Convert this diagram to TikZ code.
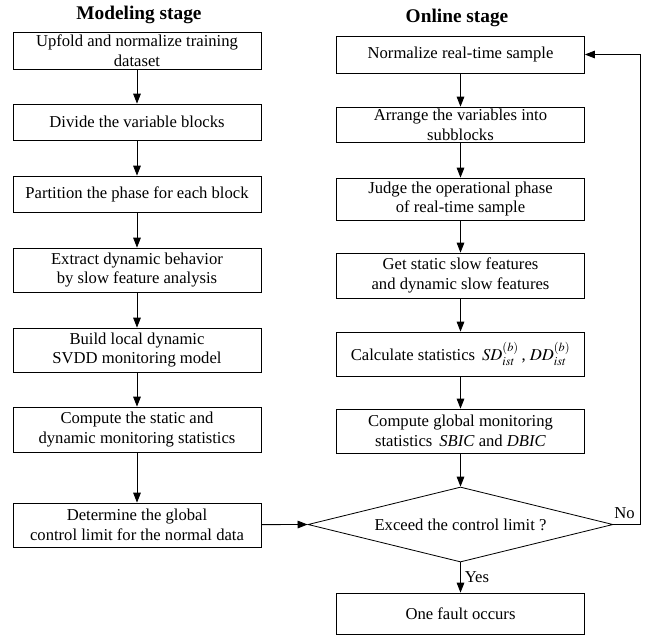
\documentclass[tikz,border=0pt]{standalone}
\usepackage{mathptmx}
\usepackage{fontspec}
\setmainfont{Liberation Serif}
\usetikzlibrary{shapes.geometric,arrows.meta}

\tikzset{
	procbox/.style={draw, rectangle, minimum width=7.44cm, inner sep=0pt, align=center,
		font=\fontsize{14.2}{17}\selectfont},
	decbox/.style={draw, diamond, aspect=4, minimum width=9.15cm, minimum height=2.25cm,
		inner sep=0pt, font=\fontsize{14.2}{17}\selectfont},
	stagetitle/.style={font=\fontsize{16.5}{20}\selectfont\bfseries},
	flow/.style={->, line width=0.7pt},
	>={Triangle[length=3mm,width=2.3mm]}
}

\begin{document}
\begin{tikzpicture}[x=0.03cm, y=-0.03cm, line width=0.7pt]
		\useasboundingbox (0,0) rectangle (646,635);
		
		% titles of the two stages
		\node[stagetitle] (modtitle) at (139,15) {Modeling stage};
		\node[stagetitle] (onltitle) at (457,18) {Online stage};
		
		% modeling stage boxes
		\node[procbox, minimum height=1.11cm] (upfold) at (137,50.5) {Upfold and normalize training\\dataset};
		\node[procbox, minimum height=1.08cm] (divide) at (137,122) {Divide the variable blocks};
		\node[procbox, minimum height=1.08cm] (partition) at (137,194) {Partition the phase for each block};
		\node[procbox, minimum height=1.32cm] (extract) at (137,270) {Extract dynamic behavior\\by slow feature analysis};
		\node[procbox, minimum height=1.32cm] (build) at (137,350) {Build local dynamic\\SVDD monitoring model};
		\node[procbox, minimum height=1.35cm] (compute) at (137,429.5) {Compute the static and\\dynamic monitoring statistics};
		\node[procbox, minimum height=1.32cm] (determine) at (137,525) {Determine the global\\control limit for the normal data};
		
		% online stage boxes
		\node[procbox, minimum height=1.11cm] (normalize) at (460.5,54.5) {Normalize real-time sample};
		\node[procbox, minimum height=1.05cm] (arrange) at (460.5,124.5) {Arrange the variables into\\subblocks};
		\node[procbox, minimum height=1.26cm] (judge) at (460.5,199) {Judge the operational phase\\of real-time sample};
		\node[procbox, minimum height=1.35cm] (getsf) at (460.5,275.5) {Get static slow features\\and dynamic slow features};
		\node[procbox, minimum height=1.32cm] (calc) at (460.5,354) {Calculate statistics \,$SD^{(b)}_{ist}$\,, $DD^{(b)}_{ist}$};
		\node[procbox, minimum height=1.32cm] (global) at (460.5,431) {Compute global monitoring\\statistics \,\textit{SBIC} and \textit{DBIC}};
		\node[decbox] (exceed) at (460.5,524.5) {Exceed the control limit ?};
		\node[procbox, minimum height=1.23cm] (fault) at (460.5,613.5) {One fault occurs};
		
		% draw the connecting arrows
		\draw[flow] (upfold) -- (divide);
		\draw[flow] (divide) -- (partition);
		\draw[flow] (partition) -- (extract);
		\draw[flow] (extract) -- (build);
		\draw[flow] (build) -- (compute);
		\draw[flow] (compute) -- (determine);
		\draw[flow] (determine) -- (exceed.west);
		
		\draw[flow] (normalize) -- (arrange);
		\draw[flow] (arrange) -- (judge);
		\draw[flow] (judge) -- (getsf);
		\draw[flow] (getsf) -- (calc);
		\draw[flow] (calc) -- (global);
		\draw[flow] (global) -- (exceed.north);
		\draw[flow] (exceed.south) -- node[right, font=\fontsize{14.2}{17}\selectfont] {Yes} (fault);
		
		% draw the feedback line
		\coordinate (back) at (640,524.5);
		\draw[flow] (exceed.east) -- (back) |- (normalize.east);
		\node[font=\fontsize{14.2}{17}\selectfont, anchor=south east] (no) at (639,523) {No};
\end{tikzpicture}
\end{document}
